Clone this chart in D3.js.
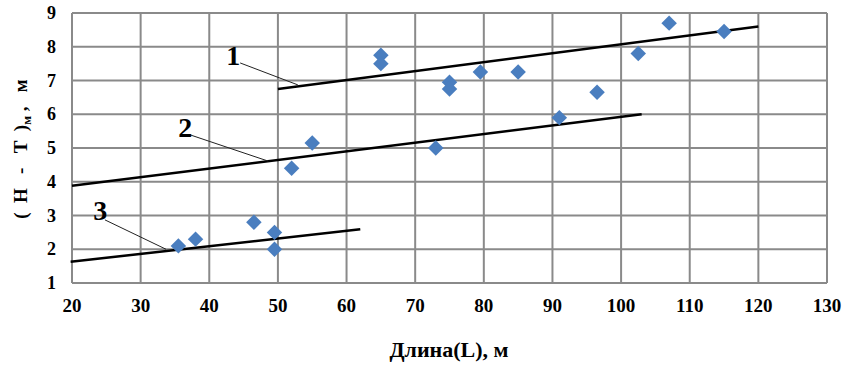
<!DOCTYPE html>
<html>
<head>
<meta charset="utf-8">
<script src="https://cdn.jsdelivr.net/npm/d3@7"></script>
<style>
body { margin: 0; background: #fff; }
text { font-family: "Liberation Serif", "Times New Roman", serif; font-weight: bold; }
</style>
</head>
<body>
<script>
let width = 846;
let height = 366;

// measured points: L and (H - T)
let pointsL = [35.5, 38, 46.5, 49.5, 49.5, 52, 55, 65, 65, 73, 75, 75, 79.5, 85, 91, 96.5, 102.5, 107, 115];
let pointsH = [2.1, 2.3, 2.8, 2.5, 2.0, 4.4, 5.15, 7.75, 7.5, 5.0, 6.95, 6.75, 7.25, 7.25, 5.9, 6.65, 7.8, 8.7, 8.45];

// trend lines: [x1, y1, x2, y2]
let lineNames = ['1', '2', '3'];
let lineEnds = [
	[50, 6.75, 120, 8.6],
	[20, 3.88, 103, 6.0],
	[19.8, 1.63, 62, 2.59]
];
// label position and leader line in data units
let labelPos = [[43.5, 7.46], [36.5, 5.33], [24.1, 2.87]];
let leaders = [
	[44.5, 7.52, 52.9, 6.87],
	[37.2, 5.39, 48.6, 4.61],
	[24.8, 2.87, 33.7, 2.0]
];

let xTicks = [20, 30, 40, 50, 60, 70, 80, 90, 100, 110, 120, 130];
let yTicks = [1, 2, 3, 4, 5, 6, 7, 8, 9];

let margin = { left: 72, right: 19, top: 13, bottom: 83 };

let svg = d3.select('body').append('svg')
	.attr('width', width)
	.attr('height', height);

let x = d3.scaleLinear().domain([20, 130]).range([margin.left, width - margin.right]);
let y = d3.scaleLinear().domain([1, 9]).range([height - margin.bottom, margin.top]);

// grid
svg.append('g').selectAll('line.v').data(xTicks).enter().append('line')
	.attr('x1', d => x(d)).attr('x2', d => x(d))
	.attr('y1', y(9)).attr('y2', y(1))
	.style('stroke', '#8a8a8a').style('stroke-width', 2);
svg.append('g').selectAll('line.h').data(yTicks).enter().append('line')
	.attr('x1', x(20)).attr('x2', x(130))
	.attr('y1', d => y(d)).attr('y2', d => y(d))
	.style('stroke', '#8a8a8a').style('stroke-width', 2);

// tick labels
svg.append('g').selectAll('text').data(xTicks).enter().append('text')
	.attr('x', d => x(d))
	.attr('y', 312)
	.attr('text-anchor', 'middle')
	.style('font-size', '19px')
	.text(d => d);
svg.append('g').selectAll('text').data(yTicks).enter().append('text')
	.attr('x', 56)
	.attr('y', d => y(d) + 6)
	.attr('text-anchor', 'end')
	.style('font-size', '18px')
	.text(d => d);

// axis titles
svg.append('text')
	.attr('x', 449)
	.attr('y', 357)
	.attr('text-anchor', 'middle')
	.style('font-size', '22px')
	.text('Длина(L), м');

let yt = svg.append('text')
	.attr('transform', 'translate(27,149) rotate(-90)')
	.attr('text-anchor', 'middle')
	.style('white-space', 'pre')
	.style('font-size', '19px');
yt.append('tspan').text('(  Н   -   Т  )');
yt.append('tspan').attr('dy', 4).style('font-size', '13px').text('м');
yt.append('tspan').attr('dy', -4).text(' ,   м');

// trend lines
svg.append('g').selectAll('line').data(lineEnds).enter().append('line')
	.attr('x1', d => x(d[0])).attr('y1', d => y(d[1]))
	.attr('x2', d => x(d[2])).attr('y2', d => y(d[3]))
	.style('stroke', '#000').style('stroke-width', 2.5);

// leaders and labels
svg.append('g').selectAll('line').data(leaders).enter().append('line')
	.attr('x1', d => x(d[0])).attr('y1', d => y(d[1]))
	.attr('x2', d => x(d[2])).attr('y2', d => y(d[3]))
	.style('stroke', '#222').style('stroke-width', 1);
svg.append('g').selectAll('text').data(lineNames).enter().append('text')
	.attr('x', (d, i) => x(labelPos[i][0]))
	.attr('y', (d, i) => y(labelPos[i][1]))
	.attr('text-anchor', 'middle')
	.style('font-size', '28px')
	.text(d => d);

// points
let diamond = d3.symbol().type(d3.symbolSquare).size(120);
svg.append('g').selectAll('path').data(pointsL).enter().append('path')
	.attr('d', diamond)
	.attr('transform', (d, i) => 'translate(' + x(d) + ',' + y(pointsH[i]) + ') rotate(45)')
	.style('fill', '#4a7ebf');
</script>
</body>
</html>
